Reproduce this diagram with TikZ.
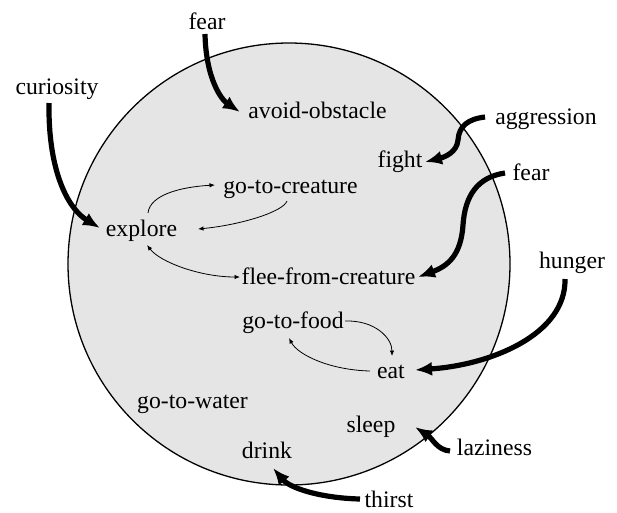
\documentclass[tikz,border=0pt]{standalone}
\usepackage{fontspec}
\setmainfont{Liberation Serif}
\usetikzlibrary{arrows.meta,calc}
\definecolor{circfill}{gray}{0.9}
\tikzset{
  lbl/.style={anchor=base,inner sep=0pt,font=\fontsize{23.7}{28}\selectfont},
  drive/.style={line width=5.2pt,-{Latex[length=17pt,width=14pt]}},
  link/.style={line width=0.8pt,-{Latex[length=5.5pt,width=4.5pt]}},
  dlink/.style={line width=0.8pt,{Latex[length=5.5pt,width=4.5pt]}-{Latex[length=5.5pt,width=4.5pt]}}
}
\begin{document}
\begin{tikzpicture}[x=1pt,y=-1pt]
\useasboundingbox (0,0) rectangle (617,512);
\draw[line width=1.3pt,fill=circfill] (289,264) circle[radius=221];
% labels
\node[lbl] (fearA) at (207,29) {fear};
\node[lbl] (curiosity) at (57,94) {curiosity};
\node[lbl] (avoid) at (317.5,118) {avoid-obstacle};
\node[lbl] (aggression) at (546,124) {aggression};
\node[lbl] (fight) at (400,167) {fight};
\node[lbl] (fearB) at (531,180) {fear};
\node[lbl] (gtc) at (290.5,193) {go-to-creature};
\node[lbl] (explore) at (141.5,236) {explore};
\node[lbl] (flee) at (328.5,284) {flee-from-creature};
\node[lbl] (hunger) at (572,268) {hunger};
\node[lbl] (gtf) at (293,328) {go-to-food};
\node[lbl] (eat) at (391,378) {eat};
\node[lbl] (gtw) at (192.5,408) {go-to-water};
\node[lbl] (sleep) at (371,432) {sleep};
\node[lbl] (drink) at (267,458) {drink};
\node[lbl] (laziness) at (494.5,455) {laziness};
\node[lbl] (thirst) at (389,507) {thirst};
% thick drive arrows
\draw[drive] ($(fearA.base)+(-2,5)$) .. controls (206,80) and (222,100) .. ($(avoid.base)+(-77.5,-6)$);
\draw[drive] ($(curiosity.base)+(-8,9)$) .. controls (48,175) and (70,210) .. ($(explore.base)+(-41.5,-8)$);
\draw[drive] ($(aggression.base)+(-61,-7)$) .. controls (468,119) and (459,126) .. (458,140) .. controls (457,152) and (445,157) .. ($(fight.base)+(25,-5)$);
\draw[drive] ($(fearB.base)+(-26,-7)$) .. controls (478,177) and (465,195) .. (463,225) .. controls (461,255) and (448,266) .. ($(flee.base)+(89.5,-7)$);
\draw[drive] ($(hunger.base)+(-7,11)$) .. controls (566,335) and (490,365) .. ($(eat.base)+(24,-8)$);
\draw[drive] ($(laziness.base)+(-44.5,-4)$) .. controls (437,450) and (432,438) .. ($(sleep.base)+(44,-5)$);
\draw[drive] ($(thirst.base)+(-29,-8)$) .. controls (320,498) and (290,488) .. ($(drink.base)+(6,10)$);
% thin links
\draw[link] ($(explore.base)+(6.5,-23)$) .. controls (150,195) and (180,187) .. ($(gtc.base)+(-75.5,-8)$);
\draw[link] ($(gtc.base)+(-3.5,8)$) .. controls (283,212) and (240,225) .. ($(explore.base)+(56.5,-7)$);
\draw[dlink] ($(explore.base)+(5.5,9)$) .. controls (160,262) and (200,277) .. ($(flee.base)+(-88.5,-7)$);
\draw[link] ($(gtf.base)+(52,-7)$) .. controls (375,320) and (392,338) .. ($(eat.base)+(1,-22)$);
\draw[link] ($(eat.base)+(-21,-7)$) .. controls (330,370) and (298,355) .. ($(gtf.base)+(-4,10)$);
\end{tikzpicture}
\end{document}
